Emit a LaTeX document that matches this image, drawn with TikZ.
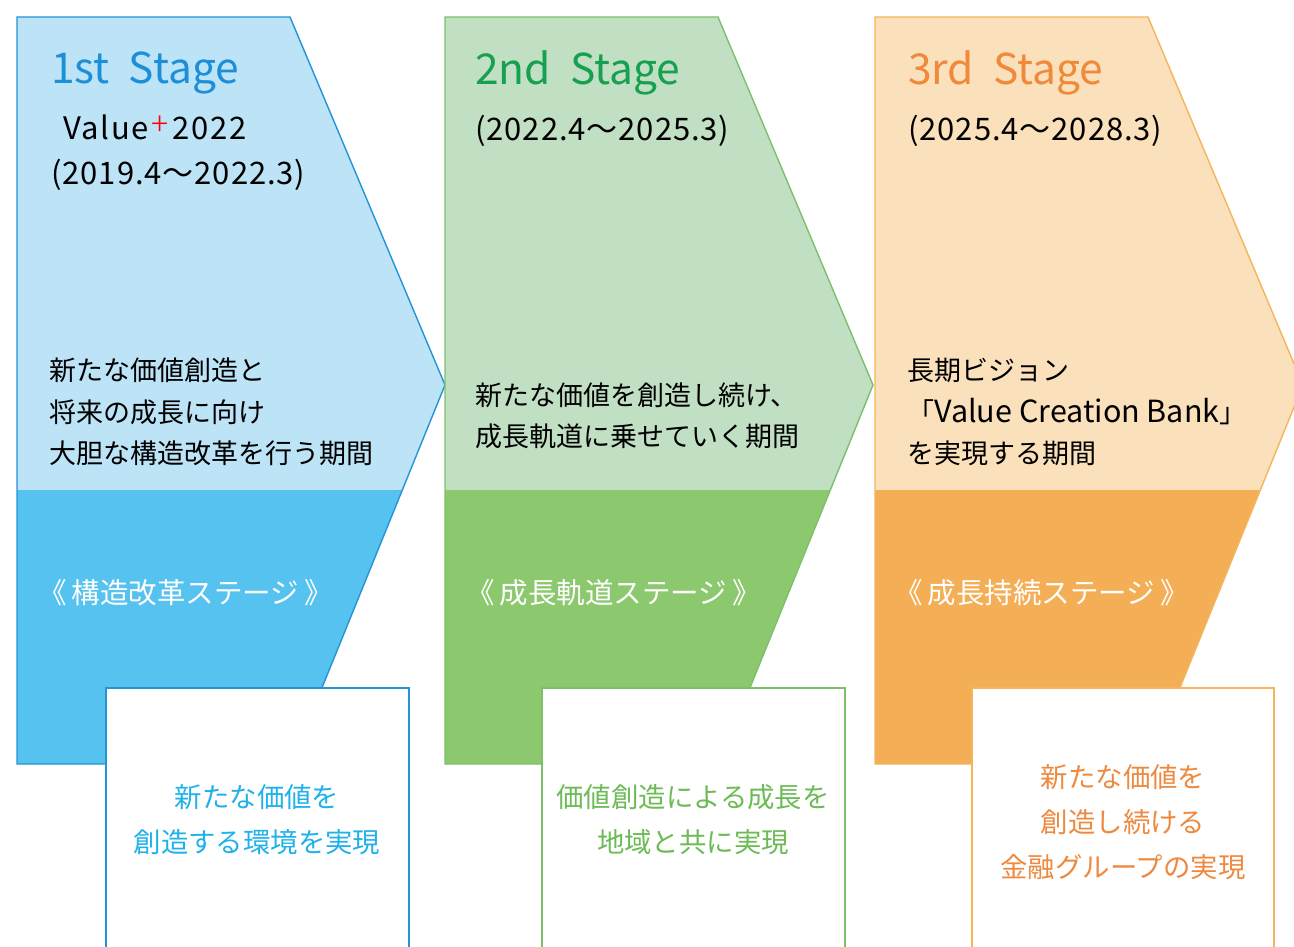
\documentclass[tikz,border=0pt]{standalone}
\usepackage{fontspec}
\setmainfont{Noto Sans CJK JP}
\newfontfamily\thinfont{Noto Sans CJK JP Light}
\newfontfamily\widefont[LetterSpace=3]{Noto Sans CJK JP}
\newfontfamily\widerfont[LetterSpace=5]{Noto Sans CJK JP}
\definecolor{blueL}{HTML}{BDE3F7}
\definecolor{blueD}{HTML}{56C2EF}
\definecolor{blueB}{HTML}{2394D6}
\definecolor{blueT}{HTML}{1C8FD8}
\definecolor{blueX}{HTML}{1FB2EA}
\definecolor{greenL}{HTML}{C1DFC3}
\definecolor{greenD}{HTML}{8CC86E}
\definecolor{greenB}{HTML}{7DC06A}
\definecolor{greenT}{HTML}{16A050}
\definecolor{greenX}{HTML}{6CBB55}
\definecolor{orangeL}{HTML}{FAE0BB}
\definecolor{orangeD}{HTML}{F4AE55}
\definecolor{orangeB}{HTML}{F5B55A}
\definecolor{orangeT}{HTML}{F08A3A}
\definecolor{orangeX}{HTML}{EE8A40}
\newcommand{\latn}[1]{{\fontsize{30.5}{30}\selectfont #1}}
\newcommand{\gap}{\hspace{0.18em}}
\tikzset{
  title/.style={anchor=west, inner sep=0pt, font=\fontsize{42.5}{46}\selectfont},
  period/.style={anchor=west, inner sep=0pt, font=\widefont\fontsize{31}{33}\selectfont},
  desc/.style={anchor=west, inner sep=0pt, align=left, font=\fontsize{27}{41.5}\selectfont},
  stagename/.style={anchor=west, inner sep=0pt, text=white, font=\fontsize{28.5}{30}\selectfont},
  goal/.style={anchor=center, inner sep=0pt, align=center, font=\fontsize{27.4}{45}\selectfont},
}
\newcommand{\stageshape}[3]{%
  \fill[#1] (17,17) -- (290,17) -- (445,385) -- (402,490) -- (17,490) -- cycle;
  \fill[#2] (17,490) -- (402,490) -- (291,764) -- (17,764) -- cycle;
  \draw[#3, line width=1.4pt, line join=miter] (17,17) -- (290,17) -- (445,385) -- (291,764) -- (17,764) -- cycle;
}
\begin{document}
\begin{tikzpicture}[x=1pt,y=-1pt]
\useasboundingbox (0,0) rectangle (1294,947);
\clip (0,0) rectangle (1294,947);
\fill[white] (0,0) rectangle (1294,947);
% Stage 1
\begin{scope}
\stageshape{blueL}{blueD}{blueB}
\end{scope}
% Stage 2
\begin{scope}[xshift=428pt]
\stageshape{greenL}{greenD}{greenB}
\end{scope}
% Stage 3
\begin{scope}[xshift=858pt]
\stageshape{orangeL}{orangeD}{orangeB}
\end{scope}
% goal boxes
\draw[blueB, fill=white, line width=1.4pt] (106,960) -- (106,688) -- (409,688) -- (409,960);
\draw[greenB, fill=white, line width=1.4pt] (542,960) -- (542,688) -- (845,688) -- (845,960);
\draw[orangeB, fill=white, line width=1.4pt] (972,960) -- (972,688) -- (1274,688) -- (1274,960);

% Stage 1 texts
\node[title, text=blueT] (t1) at (51,73) {1st\hspace{0.45em}Stage};
\node[period, font=\widerfont\fontsize{31}{33}\selectfont] (v1) at (63,127) {Value\hspace{3pt}\textcolor{red}{\raisebox{4pt}{\thinfont\fontsize{32}{32}\selectfont +}}\hspace{4pt}2022};
\node[period] (p1) at (51,175) {(2019.4～2022.3)};
\node[desc] (d1) at (49,412) {新たな価値創造と\\将来の成長に向け\\大胆な構造改革を行う期間};
\node[stagename] (s1) at (38,593) {《\gap 構造改革ステージ\gap 》};
\node[goal, text=blueX] (g1) at (257,820) {新たな価値を\\創造する環境を実現};

% Stage 2 texts
\node[title, text=greenT] (t2) at (475,73) {2nd\hspace{0.45em}Stage};
\node[period] (p2) at (475,131) {(2022.4～2025.3)};
\node[desc] (d2) at (475,416) {新たな価値を創造し続け、\\成長軌道に乗せていく期間};
\node[stagename] (s2) at (466,593) {《\gap 成長軌道ステージ\gap 》};
\node[goal, text=greenX] (g2) at (693,820) {価値創造による成長を\\地域と共に実現};

% Stage 3 texts
\node[title, text=orangeT] (t3) at (908,73) {3rd\hspace{0.45em}Stage};
\node[period] (p3) at (908,131) {(2025.4～2028.3)};
\node[desc] (d3) at (907,412) {長期ビジョン\\「\latn{Value Creation Bank}」\\を実現する期間};
\node[stagename] (s3) at (894,593) {《\gap 成長持続ステージ\gap 》};
\node[goal, text=orangeX] (g3) at (1123,822) {新たな価値を\\創造し続ける\\金融グループの実現};
\end{tikzpicture}
\end{document}
